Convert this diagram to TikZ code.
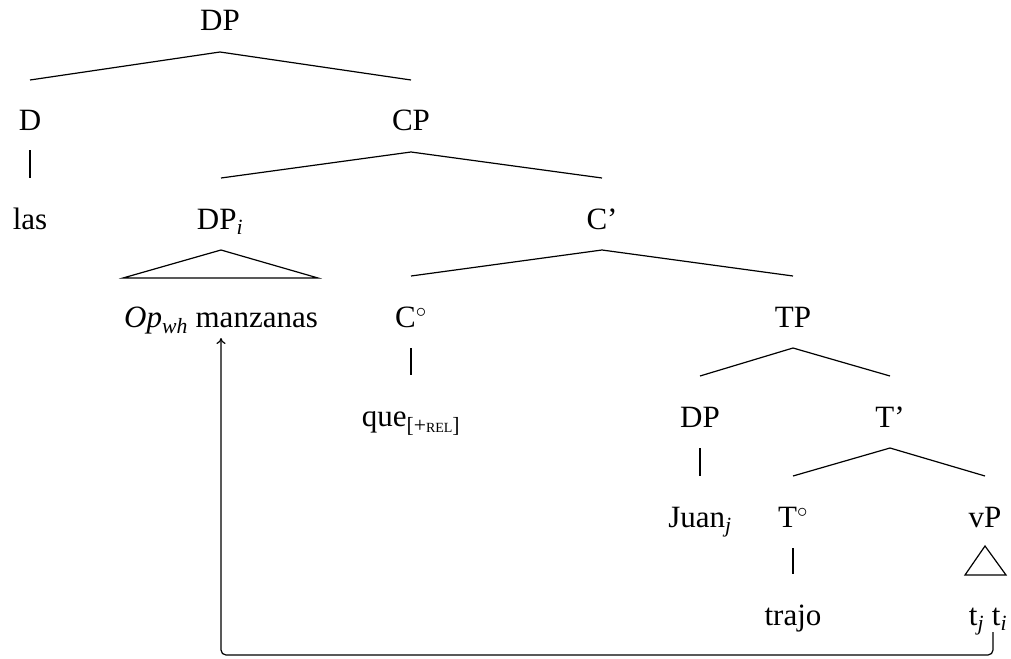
\documentclass[tikz,border=0pt]{standalone}
\usepackage{fontspec}
\setmainfont{Liberation Serif}
\usetikzlibrary{calc,arrows.meta}
\begin{document}
\begin{tikzpicture}[x=1pt,y=-1pt,
  lab/.style={anchor=base,inner sep=0pt,font=\fontsize{31}{34}\selectfont},
  branch/.style={line width=1.2pt},
  link/.style={line width=1.2pt,rounded corners=5pt,-{To[length=6pt,width=9pt]}}]
\useasboundingbox (0,0) rectangle (1011,658);

% labels of the tree, placed on their baselines
\node[lab] (dp)     at (220,31)  {DP};
\node[lab] (d)      at (30,131)  {D};
\node[lab] (cp)     at (411,131) {CP};
\node[lab] (las)    at (30,229)  {las};
\node[lab] (dpi)    at (220,229) {DP\textsubscript{\textit{i}}};
\node[lab] (cbar)   at (602,229) {C’};
\node[lab] (op)     at (221,327) {\textit{Op}\textsubscript{\textit{wh}} manzanas};
\node[lab] (c0)     at (411,327) {C$^\circ$};
\node[lab] (tp)     at (793,327) {TP};
\node[lab] (que)    at (411,426) {que\textsubscript{[+{\fontsize{14}{14}\selectfont REL}]}};
\node[lab] (dp2)    at (700,427) {DP};
\node[lab] (tbar)   at (890,427) {T’};
\node[lab] (juan)   at (700,527) {Juan\textsubscript{\textit{j}}};
\node[lab] (t0)     at (793,527) {T$^\circ$};
\node[lab] (vp)     at (985,527) {vP};
\node[lab] (trajo)  at (793,625) {trajo};
\node[lab] (traces) at (988,625) {t\textsubscript{\textit{j}} t\textsubscript{\textit{i}}};

% binary branches
\draw[branch] ($(d.base)+(0,-51)$) -- ($(dp.base)+(0,21)$) -- ($(cp.base)+(0,-51)$);
\draw[branch] ($(dpi.base)+(1,-51)$) -- ($(cp.base)+(0,21)$) -- ($(cbar.base)+(0,-51)$);
\draw[branch] ($(c0.base)+(0,-51)$) -- ($(cbar.base)+(0,21)$) -- ($(tp.base)+(0,-51)$);
\draw[branch] ($(dp2.base)+(0,-51)$) -- ($(tp.base)+(0,21)$) -- ($(tbar.base)+(0,-51)$);
\draw[branch] ($(t0.base)+(0,-51)$) -- ($(tbar.base)+(0,21)$) -- ($(vp.base)+(0,-51)$);

% unary branches
\draw[branch] ($(d.base)+(0,19)$) -- ($(las.base)+(0,-51)$);
\draw[branch] ($(c0.base)+(0,21)$) -- ($(que.base)+(0,-51)$);
\draw[branch] ($(dp2.base)+(0,21)$) -- ($(juan.base)+(0,-51)$);
\draw[branch] ($(t0.base)+(0,21)$) -- ($(trajo.base)+(0,-51)$);

% collapsed constituents
\draw[branch] ($(dpi.base)+(1,21)$) -- ($(op.base)+(97,-49)$) -- ($(op.base)+(-98,-49)$) -- cycle;
\draw[branch] ($(vp.base)+(0,19)$) -- ($(traces.base)+(18,-50)$) -- ($(traces.base)+(-23,-50)$) -- cycle;

% movement link from the trace to the operator
\draw[link] ($(traces.base)+(5,7)$) -- ++(0,23) -| ($(op.base)+(0,11)$);
\end{tikzpicture}
\end{document}
